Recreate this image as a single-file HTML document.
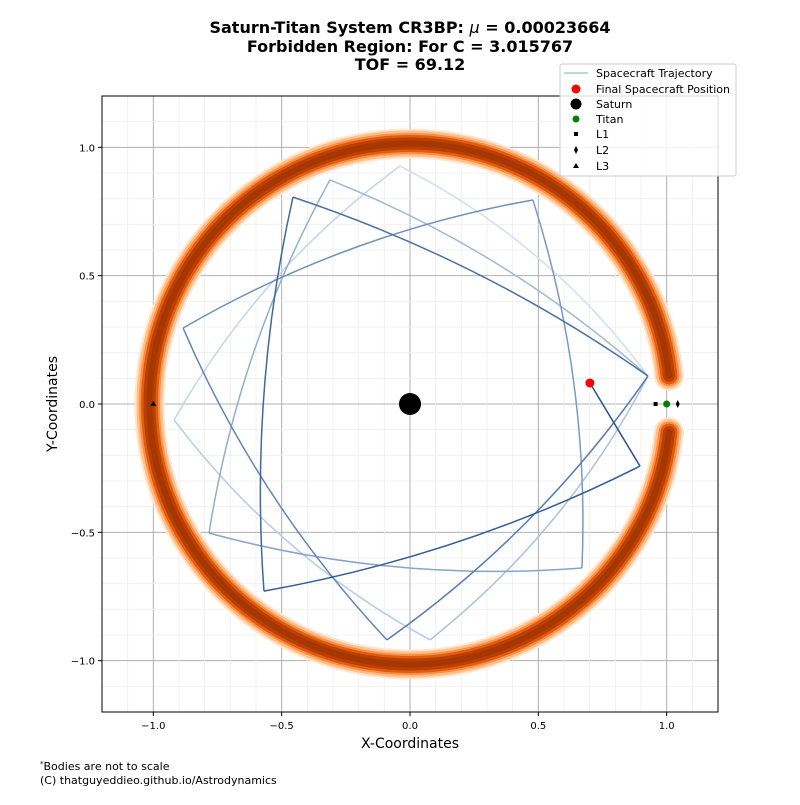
<!DOCTYPE html>
<html><head><meta charset="utf-8"><style>
body{margin:0;background:#fff;font-family:"Liberation Sans","DejaVu Sans",sans-serif;}
svg text{font-family:"DejaVu Sans","Liberation Sans",sans-serif;}
</style></head><body>
<svg id="chart" width="800" height="800" viewBox="0 0 800 800">
<rect width="800" height="800" fill="#fff"/>
<g id="grid"></g>
<g id="ring"></g>
<g id="traj"></g>
<g id="marks"></g>
<rect x="102" y="96" width="616" height="616" fill="none" stroke="#000" stroke-width="1"/>
<g id="ticks"></g>
<g font-weight="bold" font-size="16" text-anchor="middle">
<text x="410" y="33">Saturn-Titan System CR3BP: <tspan font-style="italic" font-weight="normal">μ</tspan> = 0.00023664</text>
<text x="410" y="52">Forbidden Region: For C = 3.015767</text>
<text x="410" y="70">TOF = 69.12</text>
</g>
<text x="410" y="748" font-size="14" text-anchor="middle">X-Coordinates</text>
<text transform="translate(57,404) rotate(-90)" font-size="14" text-anchor="middle">Y-Coordinates</text>
<text x="40" y="770" font-size="11"><tspan font-size="7" dy="-4">*</tspan><tspan dy="4">Bodies are not to scale</tspan></text>
<text x="40" y="784" font-size="11">(C) thatguyeddieo.github.io/Astrodynamics</text>
<g>
<rect x="560" y="64" width="176" height="112" fill="#fff" fill-opacity="0.85" stroke="#ccc" rx="2"/>
<line x1="564" y1="73" x2="588" y2="73" stroke="#9ecae1" stroke-width="1.5"/>
<text x="596" y="77" font-size="11">Spacecraft Trajectory</text>
<circle cx="576" cy="89" r="4.5" fill="red"/><text x="596" y="93" font-size="11">Final Spacecraft Position</text>
<circle cx="576" cy="104" r="5.5" fill="#000"/><text x="596" y="108" font-size="11">Saturn</text>
<circle cx="576" cy="119" r="3.5" fill="green"/><text x="596" y="123" font-size="11">Titan</text>
<rect x="574" y="132" width="4" height="4" fill="#000"/><text x="596" y="138" font-size="11">L1</text>
<path d="M576,146 l2,4 l-2,4 l-2,-4z" fill="#000"/><text x="596" y="154" font-size="11">L2</text>
<path d="M576,163 l3,5 h-6z" fill="#000"/><text x="596" y="170" font-size="11">L3</text>
</g>
</svg>
<script>
const xTicks=[-1.0,-0.5,0.0,0.5,1.0];
const yTicks=[-1.0,-0.5,0.0,0.5,1.0];
const xTickLabels=["\u22121.0","\u22120.5","0.0","0.5","1.0"];
const yTickLabels=["\u22121.0","\u22120.5","0.0","0.5","1.0"];
const trajX=[0.927,-0.039,-0.919,0.078,0.927,-0.312,-0.783,0.670,0.479,-0.884,-0.090,0.927,-0.456,-0.569,0.896,0.701];
const trajY=[0.109,0.927,-0.062,-0.919,0.109,0.873,-0.503,-0.639,0.795,0.296,-0.919,0.109,0.806,-0.729,-0.242,0.082];
const finalPos=[0.701,0.082];
const saturnPos=[0.0,0.0];
const titanPos=[1.0,0.0];
const lagrangeX=[0.957,1.043,-1.0];
const lagrangeNames=["L1","L2","L3"];
const forbiddenRadius=1.015;

const NS="http://www.w3.org/2000/svg";
const X0=102,Y0=96,W=616,H=616,MIN=-1.2,MAX=1.2;
const sx=v=>X0+(v-MIN)/(MAX-MIN)*W;
const sy=v=>Y0+H-(v-MIN)/(MAX-MIN)*H;
function mk(tag,attrs,parent){const e=document.createElementNS(NS,tag);for(const k in attrs)e.setAttribute(k,attrs[k]);parent.appendChild(e);return e;}
const grid=document.getElementById('grid');
for(let i=-12;i<=12;i++){const v=i/10;
 const major=Math.abs(i%5)===0;
 const l1=mk('line',{x1:sx(v),x2:sx(v),y1:Y0,y2:Y0+H,stroke:major?'#b0b0b0':'#eee','stroke-width':major?1:0.8},grid);
 
 
 const l2=mk('line',{y1:sy(v),y2:sy(v),x1:X0,x2:X0+W,stroke:major?'#b0b0b0':'#eee','stroke-width':major?1:0.8},grid);
 
 
}
const ticks=document.getElementById('ticks');
xTicks.forEach((v,i)=>{mk('line',{x1:sx(v),x2:sx(v),y1:Y0+H,y2:Y0+H+4,stroke:'#000'},ticks);
 const t=mk('text',{x:sx(v),y:Y0+H+17,'font-size':10,'text-anchor':'middle'},ticks);t.textContent=xTickLabels[i];
 
 });
yTicks.forEach((v,i)=>{mk('line',{x1:X0-4,x2:X0,y1:sy(v),y2:sy(v),stroke:'#000'},ticks);
 const t=mk('text',{x:X0-7,y:sy(v)+4,'font-size':10,'text-anchor':'end'},ticks);t.textContent=yTickLabels[i];
 
 });
const ring=document.getElementById('ring');
const R=forbiddenRadius*(W/(MAX-MIN));const cx=sx(0),cy=sy(0);
const gap=6.2*Math.PI/180;
const ax=cx+R*Math.cos(gap),ay=cy-R*Math.sin(gap),bx=cx+R*Math.cos(gap),by=cy+R*Math.sin(gap);
const d=`M${ax},${ay} A${R},${R} 0 1 0 ${bx},${by}`;
[[30,'#fee6ce'],[26,'#fdc08a'],[21,'#f98e45'],[17,'#e35b0e'],[12,'#b84000'],[6,'#a63603']].forEach(([w,c])=>{
 const p=mk('path',{d:d,fill:'none',stroke:c,'stroke-width':w,'stroke-linecap':'round'},ring);
 
 });
const traj=document.getElementById('traj');
const n=trajX.length;
const c1=[206,224,242],c2=[38,84,145];
for(let i=0;i<n-1;i++){
 const t=i/(n-2);
 const col=`rgb(${c1.map((a,k)=>Math.round(a+(c2[k]-a)*t)).join(',')})`;
 const mx=(trajX[i]+trajX[i+1])/2,my=(trajY[i]+trajY[i+1])/2;
 const k=(i===n-2)?0:0.22;const qx=mx*(1+k),qy=my*(1+k);
 const p=mk('path',{d:`M${sx(trajX[i])},${sy(trajY[i])} Q${sx(qx)},${sy(qy)} ${sx(trajX[i+1])},${sy(trajY[i+1])}`,fill:'none',stroke:col,'stroke-width':1.5},traj);
 
 
}
const marks=document.getElementById('marks');
const sat=mk('circle',{cx:sx(saturnPos[0]),cy:sy(saturnPos[1]),r:11,fill:'#000'},marks);


const fin=mk('circle',{cx:sx(finalPos[0]),cy:sy(finalPos[1]),r:4.5,fill:'red'},marks);


const tit=mk('circle',{cx:sx(titanPos[0]),cy:sy(titanPos[1]),r:3.5,fill:'green'},marks);


lagrangeX.forEach((v,i)=>{const x=sx(v),y=sy(0);let e;
 if(i===0)e=mk('rect',{x:x-2,y:y-2,width:4,height:4,fill:'#000'},marks);
 else if(i===1)e=mk('path',{d:`M${x},${y-4} l2,4 l-2,4 l-2,-4z`,fill:'#000'},marks);
 else e=mk('path',{d:`M${x},${y-3} l3,5 h-6z`,fill:'#000'},marks);
 
 });
</script>
</body></html>
